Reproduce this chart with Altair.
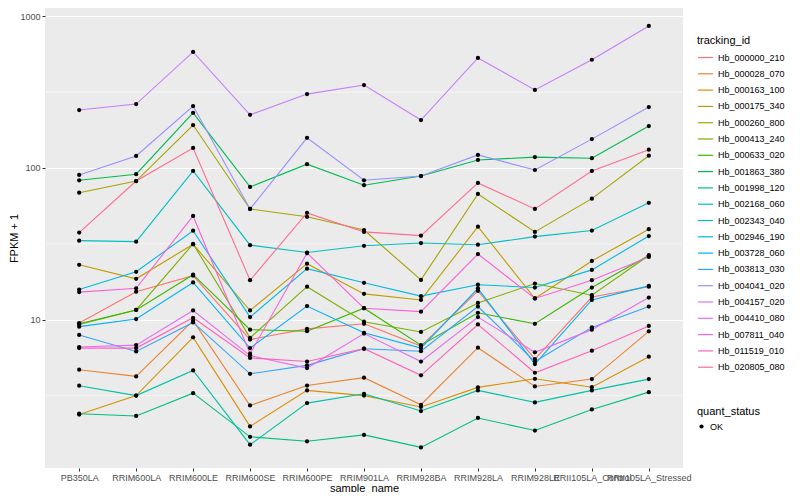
import altair as alt
import pandas as pd

samples = ["PB350LA", "RRIM600LA", "RRIM600LE", "RRIM600SE", "RRIM600PE",
           "RRIM901LA", "RRIM928BA", "RRIM928LA", "RRIM928LE",
           "RRII105LA_Control", "RRII105LA_Stressed"]

tracking_ids = ["Hb_000000_210", "Hb_000028_070", "Hb_000163_100", "Hb_000175_340",
                "Hb_000260_800", "Hb_000413_240", "Hb_000633_020", "Hb_001863_380",
                "Hb_001998_120", "Hb_002168_060", "Hb_002343_040", "Hb_002946_190",
                "Hb_003728_060", "Hb_003813_030", "Hb_004041_020", "Hb_004157_020",
                "Hb_004410_080", "Hb_007811_040", "Hb_011519_010", "Hb_020805_080"]

colors = ["#F8766D", "#EA8331", "#D89000", "#C09B00", "#A3A500", "#7CAE00", "#39B600",
          "#00BB4E", "#00BF7D", "#00C1A3", "#00BFC4", "#00BAE0", "#00B0F6", "#35A2FF",
          "#9590FF", "#C77CFF", "#E76BF3", "#FA62DB", "#FF62BC", "#FF6C91"]

Hb_000000_210 = [9.5, 15.3, 19.5, 7.4, 8.7, 9.4, 6.7, 15.5, 5.5, 14.1, 16.5]
Hb_000028_070 = [4.68, 4.23, 9.85, 2.72, 3.68, 4.15, 2.75, 6.54, 3.63, 4.06, 8.38]
Hb_000163_100 = [2.37, 3.16, 7.65, 1.98, 3.42, 3.16, 2.66, 3.58, 4.08, 3.59, 5.70]
Hb_000175_340 = [23.0, 18.6, 31.4, 11.5, 23.4, 14.8, 13.5, 41.0, 13.8, 24.4, 39.5]
Hb_000260_800 = [68.7, 82.0, 192.0, 53.7, 47.7, 39.0, 18.3, 67.4, 37.9, 62.8, 120.5]
Hb_000413_240 = [9.3, 11.6, 31.6, 7.6, 16.5, 9.7, 8.3, 12.9, 17.3, 14.5, 26.5]
Hb_000633_020 = [9.4, 11.6, 19.8, 8.6, 8.4, 11.9, 6.8, 11.1, 9.4, 16.3, 26.5]
Hb_001863_380 = [83.0, 91.0, 231.0, 75.0, 106.0, 77.0, 88.5, 113.0, 118.0, 116.0, 189.0]
Hb_001998_120 = [2.40, 2.32, 3.28, 1.69, 1.58, 1.74, 1.44, 2.25, 1.86, 2.56, 3.33]
Hb_002168_060 = [3.67, 3.16, 4.63, 1.50, 2.82, 3.25, 2.50, 3.42, 2.85, 3.42, 4.06]
Hb_002343_040 = [33.2, 32.7, 95.6, 31.0, 27.7, 30.7, 32.0, 31.2, 35.3, 38.7, 59.0]
Hb_002946_190 = [15.8, 20.7, 38.6, 10.4, 21.7, 17.5, 14.3, 17.0, 16.3, 21.3, 35.6]
Hb_003728_060 = [9.0, 10.1, 17.6, 6.5, 12.3, 8.2, 6.5, 16.1, 5.1, 13.5, 16.7]
Hb_003813_030 = [7.93, 6.18, 9.6, 4.4, 5.0, 6.44, 6.2, 12.2, 5.3, 8.9, 12.2]
Hb_004041_020 = [90.0, 120.0, 256.0, 53.7, 158.0, 83.0, 88.5, 122.0, 97.0, 155.0, 252.0]
Hb_004157_020 = [241.0, 264.0, 582.0, 224.0, 307.0, 352.0, 207.0, 531.0, 327.0, 517.0, 863.0]
Hb_004410_080 = [6.6, 6.8, 11.5, 5.8, 4.8, 8.1, 5.3, 10.4, 6.1, 8.6, 14.0]
Hb_007811_040 = [15.2, 16.1, 48.3, 5.97, 27.5, 11.9, 11.3, 27.1, 13.8, 18.2, 25.9]
Hb_011519_010 = [6.5, 6.5, 10.3, 5.6, 5.3, 6.44, 4.3, 9.3, 4.47, 6.25, 9.1]
Hb_020805_080 = [37.5, 82.0, 135.5, 18.2, 50.6, 37.9, 35.8, 79.7, 53.7, 95.6, 132.0]

series = [Hb_000000_210, Hb_000028_070, Hb_000163_100, Hb_000175_340, Hb_000260_800,
          Hb_000413_240, Hb_000633_020, Hb_001863_380, Hb_001998_120, Hb_002168_060,
          Hb_002343_040, Hb_002946_190, Hb_003728_060, Hb_003813_030, Hb_004041_020,
          Hb_004157_020, Hb_004410_080, Hb_007811_040, Hb_011519_010, Hb_020805_080]

y_major = [10, 100, 1000]
y_minor = [3.1623, 31.623, 316.23]

rows = []
for tid, vals in zip(tracking_ids, series):
    for i, (s, v) in enumerate(zip(samples, vals)):
        rows.append({"tracking_id": tid, "sample_name": s, "idx": i, "fpkm": v,
                     "quant_status": "OK"})
df = pd.DataFrame(rows)
minor_df = pd.DataFrame({"fpkm": y_minor})

FONT = "Liberation Sans"

yscale = alt.Scale(type="log", domain=[1.053, 1134], nice=False, zero=False)
y_enc = alt.Y("fpkm:Q", scale=yscale, title="FPKM + 1",
              axis=alt.Axis(values=y_major, format="d", titleX=-31, titleY=230,
                            titleBaseline="middle"))
x_enc = alt.X("sample_name:N", sort=samples, scale=alt.Scale(type="point", padding=0.6),
              title="sample_name",
              axis=alt.Axis(labelAngle=0, labelOverlap=False, titleY=20,
                            titleBaseline="middle", titleX=319))

minor = alt.Chart(minor_df).mark_rule(color="white", strokeWidth=0.55).encode(y=y_enc)

lines = alt.Chart(df).mark_line(strokeWidth=1.1).encode(
    x=x_enc, y=y_enc,
    color=alt.Color("tracking_id:N", scale=alt.Scale(domain=tracking_ids, range=colors),
                    legend=alt.Legend(title="tracking_id", orient="none", legendX=652,
                                      legendY=27, symbolType="stroke", symbolSize=225,
                                      symbolStrokeWidth=1.2, rowPadding=2.3,
                                      titlePadding=3, labelFontSize=9,
                                      labelColor="black")),
    order=alt.Order("idx:Q"),
)

points = alt.Chart(df).mark_point(filled=True, size=18, opacity=1, color="black").encode(
    x=x_enc, y=y_enc,
    shape=alt.Shape("quant_status:N", scale=alt.Scale(range=["circle"]),
                    legend=alt.Legend(title="quant_status", orient="none", legendX=652,
                                      legendY=398, symbolFillColor="black",
                                      symbolStrokeColor="black", symbolSize=18,
                                      titlePadding=5, labelFontSize=9,
                                      labelColor="black")),
)

chart = alt.layer(minor, lines, points).properties(
    width=638, height=460,
    autosize=alt.AutoSizeParams(type="none"),
    padding={"left": 37, "top": 0, "right": 109, "bottom": 24},
).configure_view(fill="#EBEBEB", strokeWidth=0).configure_axis(
    domain=False, tickColor="#333333", tickSize=3, labelColor="#4D4D4D",
    labelFontSize=9, labelFont=FONT, titleFont=FONT, titleFontSize=11,
    titleFontWeight="normal", titleColor="black", gridColor="white", gridWidth=1.1,
    labelPadding=2,
).configure_legend(
    titleFont=FONT, labelFont=FONT, titleFontSize=11, titleFontWeight="normal",
    titleColor="black",
)

chart.save("out.html", embed_options={"renderer": "svg", "actions": False})
